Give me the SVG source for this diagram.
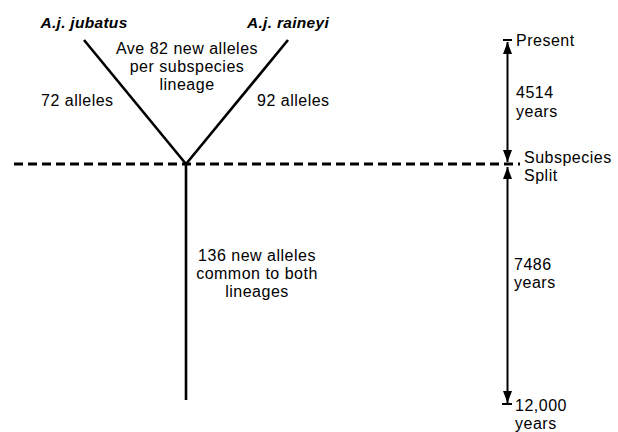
<svg xmlns="http://www.w3.org/2000/svg" width="618" height="432" viewBox="0 0 618 432">
<style>
text{font-family:"Liberation Sans",Arial,sans-serif;font-size:16px;letter-spacing:0.5px;fill:#000}
.t{font-size:15.5px;font-weight:bold;font-style:italic;letter-spacing:0.3px}
.c{text-anchor:middle}
.ln{stroke:#000;stroke-width:2.6;fill:none}
.ar{stroke:#000;stroke-width:2;fill:none}
</style>
<defs>
<marker id="ah" viewBox="0 0 12 9" refX="12" refY="4.5" markerWidth="12" markerHeight="9" markerUnits="userSpaceOnUse" orient="auto">
<path d="M0,0 L12,4.5 L0,9 Z" fill="#000"/>
</marker>
</defs>
<rect width="618" height="432" fill="#fff"/>
<g id="connectors">
<line class="ln" x1="84" y1="40" x2="186" y2="164"/>
<line class="ln" x1="288" y1="40" x2="186" y2="164"/>
<line class="ln" x1="186" y1="164" x2="186" y2="400"/>
<line x1="14" y1="164" x2="520" y2="164" stroke="#000" stroke-width="3" stroke-dasharray="9,5"/>
<line class="ar" x1="503" y1="40" x2="512" y2="40"/>
<line class="ar" x1="507.5" y1="100" x2="507.5" y2="42" marker-end="url(#ah)"/>
<line class="ar" x1="507.5" y1="100" x2="507.5" y2="162" marker-end="url(#ah)"/>
<line class="ar" x1="507.5" y1="280" x2="507.5" y2="167" marker-end="url(#ah)"/>
<line class="ar" x1="507.5" y1="280" x2="507.5" y2="403" marker-end="url(#ah)"/>
<line class="ar" x1="502" y1="404" x2="512" y2="404"/>
</g>
<g id="jubatus"><text class="t c" x="84" y="28">A.j. jubatus</text></g>
<g id="raineyi"><text class="t c" x="288" y="28">A.j. raineyi</text></g>
<g id="ave"><text class="c" x="187" y="54">Ave 82 new alleles</text><text class="c" x="187" y="72">per subspecies</text><text class="c" x="187" y="90">lineage</text></g>
<g id="l72"><text x="41" y="106">72 alleles</text></g>
<g id="l92"><text x="257" y="106">92 alleles</text></g>
<g id="common"><text class="c" x="257" y="261">136 new alleles</text><text class="c" x="257" y="279">common to both</text><text class="c" x="257" y="297">lineages</text></g>
<g id="present"><text x="516" y="46">Present</text></g>
<g id="y4514"><text x="516" y="98">4514</text><text x="516" y="117">years</text></g>
<g id="split"><text x="524" y="163">Subspecies</text><text x="524" y="181">Split</text></g>
<g id="y7486"><text x="514" y="270">7486</text><text x="514" y="288">years</text></g>
<g id="y12000"><text x="515" y="411">12,000</text><text x="515" y="429">years</text></g>
</svg>
